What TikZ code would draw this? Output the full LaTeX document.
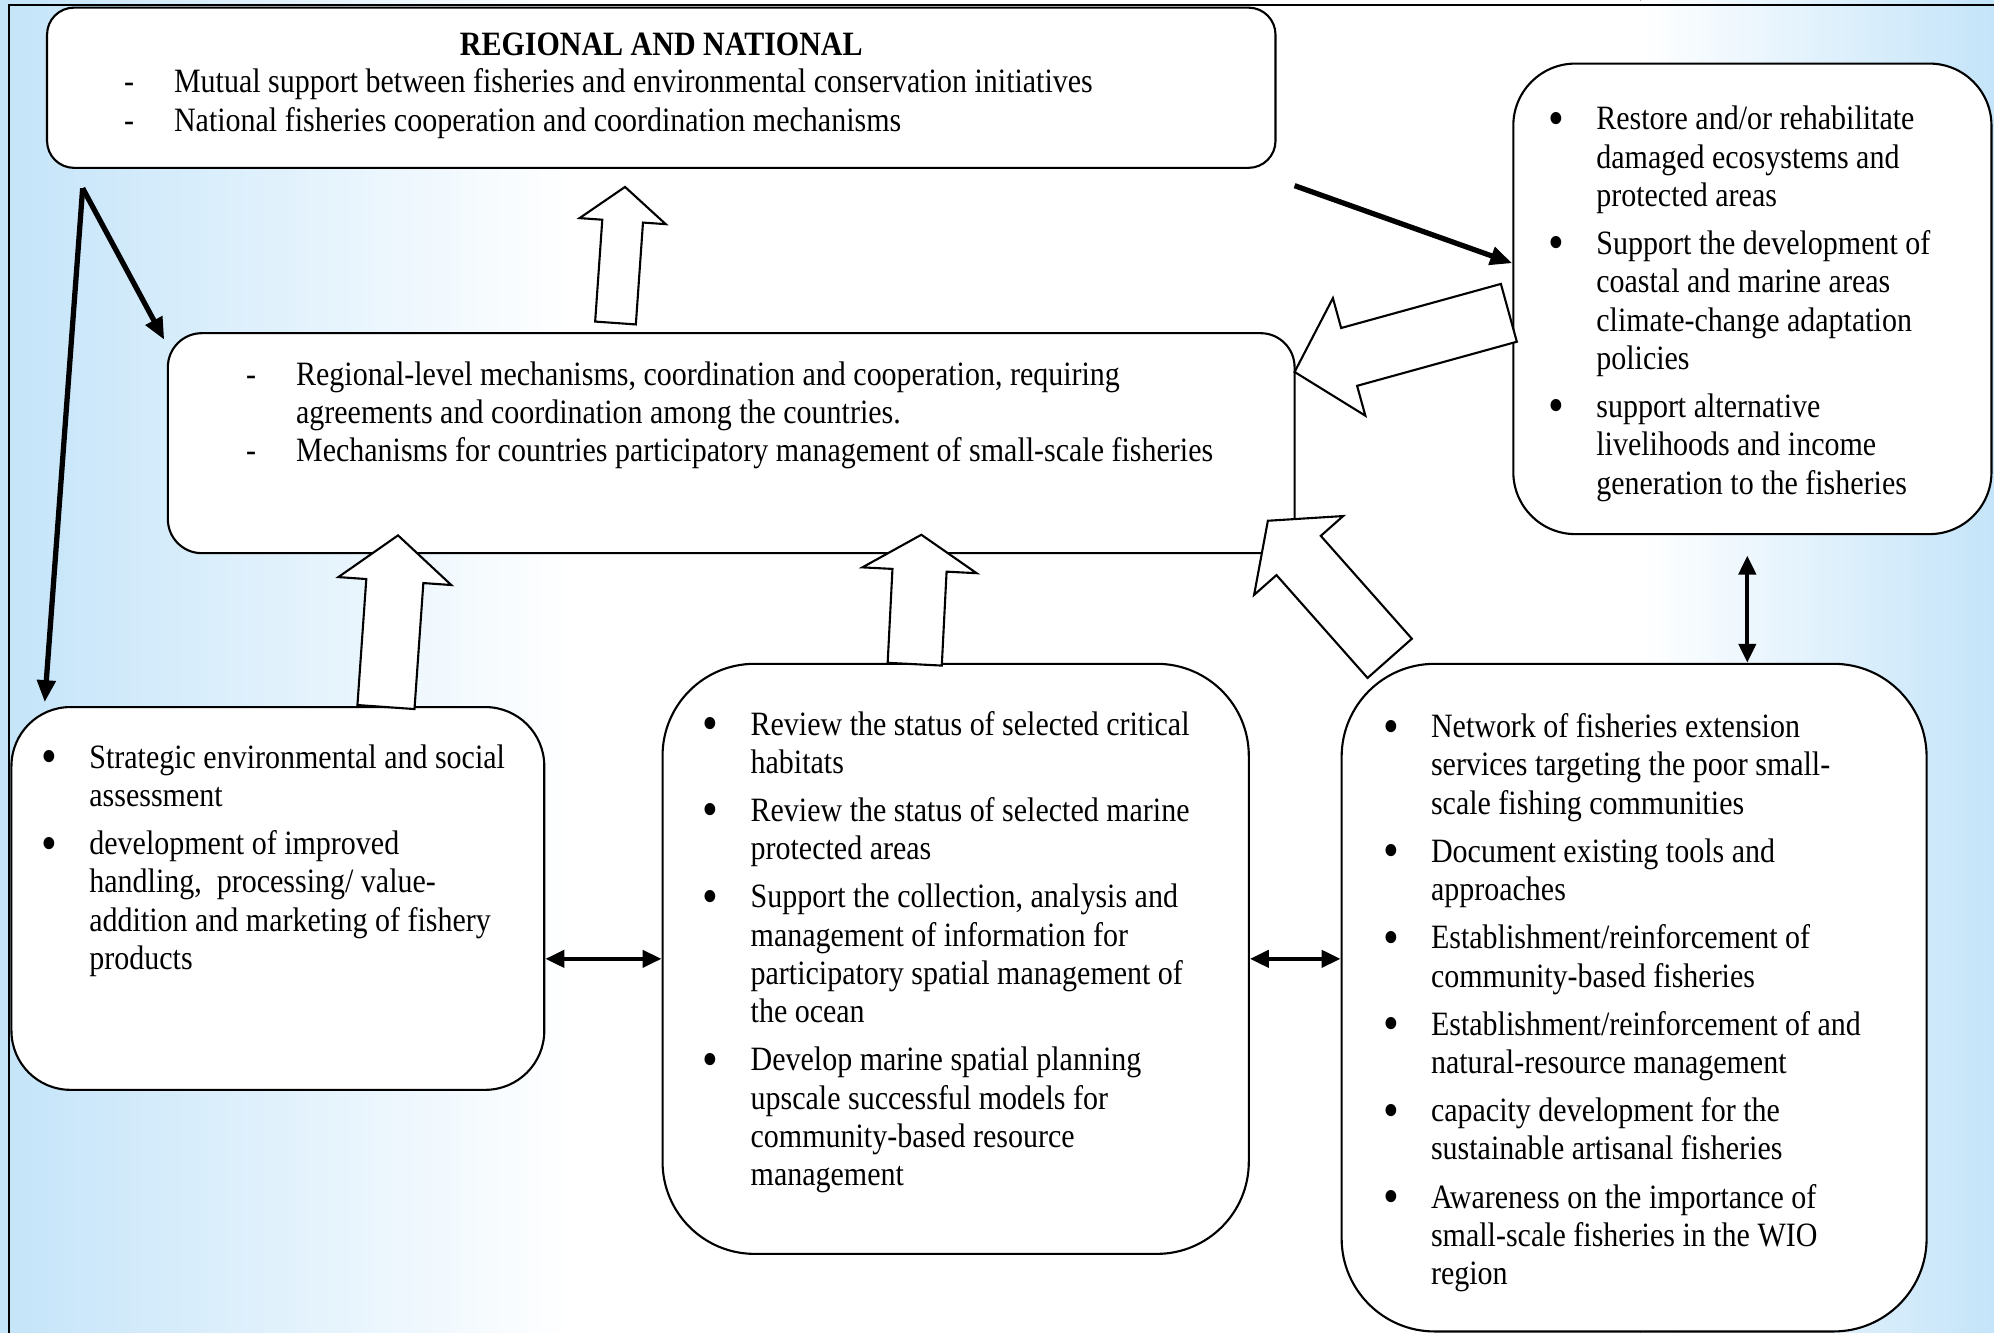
\documentclass[tikz,border=0pt]{standalone}
\usepackage{fontspec}
\setmainfont{Liberation Serif}[FakeStretch=0.88]
\usetikzlibrary{
    arrows.meta,
    calc,
    fit,
    positioning
}
\definecolor{bgblue}{RGB}{196,228,249}

\tikzset{
    box/.style={draw, fill=white, line width=0.6pt, inner sep=0pt},
    txt/.style={anchor=base west, inner sep=0pt, font=\fontsize{9.7}{10.9}\selectfont},
    hollow/.style={draw, fill=white, line width=0.6pt, line join=miter},
    oneway/.style={line width=1.5pt, -{Triangle[length=2.2mm,width=1.8mm]}},
    twoway/.style={line width=1.2pt,
        {Triangle[length=1.9mm,width=1.7mm]}-{Triangle[length=1.9mm,width=1.7mm]}}
}

\newcommand{\bul}{\raisebox{-0.35ex}{\scalebox{1.5}{\textbullet}}}

% big white arrow: tail, tip, half shaft, half head, head length
\newcommand{\hollowarrow}[5]{%
    \path ($(#2)!#5!(#1)$) coordinate (neck);
    \draw[hollow] ($(#1)!#3!90:(#2)$) -- ($(neck)!#3!90:(#2)$)
        -- ($(neck)!#4!90:(#2)$) -- (#2) -- ($(neck)!#4!-90:(#2)$)
        -- ($(neck)!#3!-90:(#2)$) -- ($(#1)!#3!-90:(#2)$) -- cycle;
}

\begin{document}
\begin{tikzpicture}[x=0.1272mm, y=-0.1272mm]
    \useasboundingbox (0, 0) rectangle (1568, 1048);
    % background
    \fill[white] (0, 0) rectangle (1568, 1048);
    \fill[left color=bgblue, right color=white] (0, 0) rectangle (450, 1048);
    \fill[left color=white, right color=bgblue] (1290, 0) rectangle (1568, 1048);
    \draw[line width=0.6pt] (7, 1048) -- (7, 4) -- (1568, 4);

    % boxes
    \node[box, rounded corners=2.7mm, fit={(37, 6) (1003, 132)}] (natl) {};
    \node[box, rounded corners=3.4mm, fit={(132, 262) (1018, 435)}] (reg) {};
    \node[box, rounded corners=6.2mm, fit={(1190, 50) (1566, 420)}] (rst) {};
    \node[box, rounded corners=5.9mm, fit={(9, 556) (428, 857)}] (ssa) {};
    \node[box, rounded corners=9.2mm, fit={(521, 522) (982, 986)}] (rev) {};
    \node[box, rounded corners=9.3mm, fit={(1055, 522) (1515, 1047)}] (net) {};

    % texts
    \node[txt, anchor=base, font=\fontsize{9.7}{10.9}\selectfont\bfseries] (title)
        at (520, 44) {REGIONAL AND NATIONAL};
    \node[txt] (natltxt) at (97, 73) {\begin{tabular}[t]{@{}p{5mm}@{}l@{}}
        - & Mutual support between fisheries and environmental conservation initiatives\\
        - & National fisheries cooperation and coordination mechanisms
    \end{tabular}};
    \node[txt] (regtxt) at (193, 303) {\begin{tabular}[t]{@{}p{5mm}@{}l@{}}
        - & Regional-level mechanisms, coordination and cooperation, requiring\\
          & agreements and coordination among the countries.\\
        - & Mechanisms for countries participatory management of small-scale fisheries
    \end{tabular}};
    \node[txt] (rsttxt) at (1217, 102) {\begin{tabular}[t]{@{}p{4.8mm}@{}l@{}}
        \bul & Restore and/or rehabilitate\\
             & damaged ecosystems and\\
             & protected areas\\[2.8pt]
        \bul & Support the development of\\
             & coastal and marine areas\\
             & climate-change adaptation\\
             & policies\\[2.8pt]
        \bul & support alternative\\
             & livelihoods and income\\
             & generation to the fisheries
    \end{tabular}};
    \node[txt] (ssatxt) at (32, 604) {\begin{tabular}[t]{@{}p{4.8mm}@{}l@{}}
        \bul & Strategic environmental and social\\
             & assessment\\[2.8pt]
        \bul & development of improved\\
             & handling,\ \ processing/ value-\\
             & addition and marketing of fishery\\
             & products
    \end{tabular}};
    \node[txt] (revtxt) at (552, 578) {\begin{tabular}[t]{@{}p{4.8mm}@{}l@{}}
        \bul & Review the status of selected critical\\
             & habitats\\[2.8pt]
        \bul & Review the status of selected marine\\
             & protected areas\\[2.8pt]
        \bul & Support the collection, analysis and\\
             & management of information for\\
             & participatory spatial management of\\
             & the ocean\\[2.8pt]
        \bul & Develop marine spatial planning\\
             & upscale successful models for\\
             & community-based resource\\
             & management
    \end{tabular}};
    \node[txt] (nettxt) at (1087, 580) {\begin{tabular}[t]{@{}p{4.8mm}@{}l@{}}
        \bul & Network of fisheries extension\\
             & services targeting the poor small-\\
             & scale fishing communities\\[2.8pt]
        \bul & Document existing tools and\\
             & approaches\\[2.8pt]
        \bul & Establishment/reinforcement of\\
             & community-based fisheries\\[2.8pt]
        \bul & Establishment/reinforcement of and\\
             & natural-resource management\\[2.8pt]
        \bul & capacity development for the\\
             & sustainable artisanal fisheries\\[2.8pt]
        \bul & Awareness on the importance of\\
             & small-scale fisheries in the WIO\\
             & region
    \end{tabular}};

    % white arrows
    \coordinate (a1s) at (484, 254);
    \coordinate (a1t) at (491.5, 147);
    \coordinate (a2s) at (1186.5, 246);
    \coordinate (a2t) at (1018, 292.5);
    \coordinate (a3s) at (303.5, 556);
    \coordinate (a3t) at (313, 421);
    \coordinate (a4s) at (719.3, 522.3);
    \coordinate (a4t) at (724.5, 420.5);
    \coordinate (a5s) at (1092.8, 517.7);
    \coordinate (a5t) at (997, 409.5);
    \hollowarrow{a1s}{a1t}{2.04mm}{4.32mm}{3.43mm}
    \hollowarrow{a2s}{a2t}{3.0mm}{6.1mm}{5.66mm}
    \hollowarrow{a3s}{a3t}{2.86mm}{5.66mm}{4.58mm}
    \hollowarrow{a4s}{a4t}{2.71mm}{5.72mm}{3.56mm}
    \hollowarrow{a5s}{a5t}{2.96mm}{5.95mm}{4.64mm}

    % black arrows
    \coordinate (fork) at (65, 148);
    \coordinate (lead) at (1018, 146);
    \draw[oneway] (fork) -- ($(reg.north west)+(-2, 6)$);
    \draw[oneway] (fork) -- ($(ssa.north west)+(27, -3)$);
    \draw[oneway] (lead) -- ($(rst.west)+(0, -28)$);
    \draw[twoway] ($(rst.south)+(-4, 16)$) -- ($(net.north)+(89, 0)$);
    \draw[twoway] (ssa.east |- rev.west) -- (rev.west);
    \draw[twoway] (rev.east) -- (rev.east -| net.west);
\end{tikzpicture}
\end{document}
